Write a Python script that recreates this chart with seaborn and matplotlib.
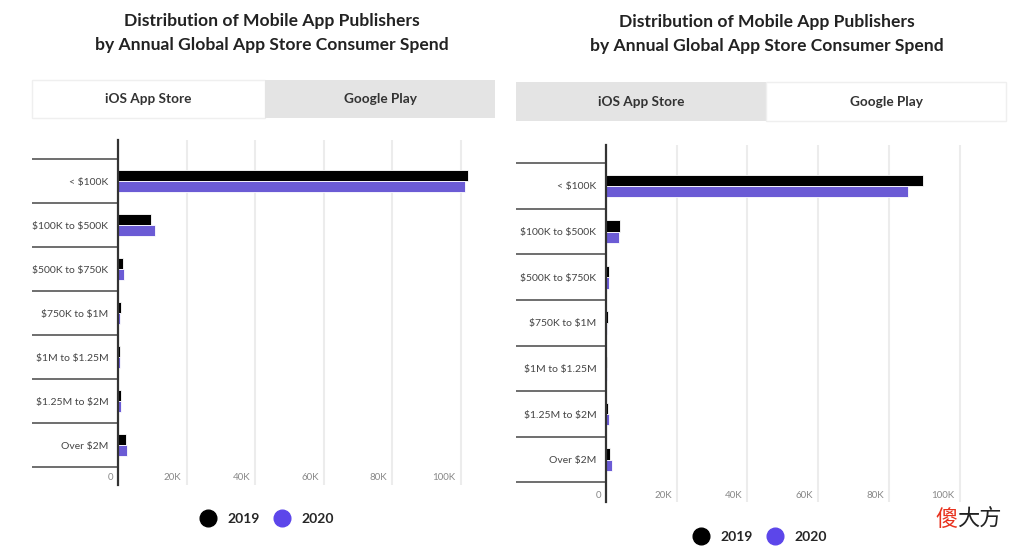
#!/usr/bin/env python3
# -*- coding: utf-8 -*-
"""Distribution of mobile app publishers by annual consumer spend (iOS vs Google Play)."""

import matplotlib
matplotlib.use("Agg")
import matplotlib.pyplot as plt  # noqa: E402
import matplotlib.transforms as mtransforms  # noqa: E402
from matplotlib.lines import Line2D  # noqa: E402
from matplotlib.patches import Rectangle  # noqa: E402
import pandas as pd  # noqa: E402
import seaborn as sns  # noqa: E402

# =============================================================================
# DATA
# =============================================================================
buckets = ["< $100K", "$100K to $500K", "$500K to $750K", "$750K to $1M",
           "$1M to $1.25M", "$1.25M to $2M", "Over $2M"]
years = ["2019", "2020"]
ios_2019 = [102200, 9600, 1500, 900, 500, 800, 2200]
ios_2020 = [101300, 10800, 1800, 700, 600, 800, 2500]
gplay_2019 = [89600, 4000, 900, 500, 400, 500, 1200]
gplay_2020 = [85400, 3700, 800, 400, 300, 800, 1700]
x_ticks = [0, 20000, 40000, 60000, 80000, 100000]
x_tick_labels = ["0", "20K", "40K", "60K", "80K", "100K"]

TITLE = "Distribution of Mobile App Publishers\nby Annual Global App Store Consumer Spend"
COLORS = {"2019": "#000000", "2020": "#5c46ea"}
FONT = "Lato"

W, H = 1024, 557


def long_frame(v2019, v2020):
    return pd.DataFrame({
        "bucket": buckets * 2,
        "year": ["2019"] * len(buckets) + ["2020"] * len(buckets),
        "publishers": list(v2019) + list(v2020),
    })


def fx(px):
    return px / W


def fy(py):
    return 1 - py / H


def draw_panel(fig, df, geom, active):
    """One panel: title, tab bar, bar chart, legend."""
    g = geom
    # title
    fig.text(fx(g["title_x"]), fy(g["title_y"]), TITLE, ha="center", va="center",
             fontsize=12.6, fontweight="bold", color="#222222", linespacing=1.6,
             family=FONT)

    # tab bar
    tx0, tx1, tmid = g["tab_x0"], g["tab_x1"], g["tab_mid"]
    ty0, ty1 = g["tab_y0"], g["tab_y1"]
    for (a, b), is_active, label in [((tx0, tmid), active == 0, "iOS App Store"),
                                     ((tmid, tx1), active == 1, "Google Play")]:
        rect = Rectangle((fx(a), fy(ty1)), fx(b - a), (ty1 - ty0) / H,
                         transform=fig.transFigure,
                         facecolor="#ffffff" if is_active else "#e4e4e4",
                         edgecolor="#efefef" if is_active else "none", lw=1.0)
        fig.add_artist(rect)
        fig.text(fx((a + b) / 2), fy((ty0 + ty1) / 2), label, ha="center", va="center",
                 fontsize=9.8, fontweight="bold", color="#333333", family=FONT)

    # axes
    ax_left, ax_right = g["ax_x0"], g["ax_x1"]
    ax_top, ax_bot = g["ax_y0"], g["ax_y1"]
    ax = fig.add_axes([fx(ax_left), fy(ax_bot), fx(ax_right - ax_left), (ax_bot - ax_top) / H])
    ax.set_facecolor("none")
    sns.barplot(data=df, y="bucket", x="publishers", hue="year", hue_order=years,
                order=buckets, orient="h", palette=COLORS, width=0.5,
                edgecolor="white", linewidth=0.6, legend=False, ax=ax)
    ax.set_xlim(0, 110000)
    ax.set_ylim(g["ylim_bot"], g["ylim_top"])
    ax.set_xlabel("")
    ax.set_ylabel("")

    ax.set_xticks(x_ticks)
    ax.xaxis.grid(True, color="#ececec", lw=1.5)
    ax.set_axisbelow(True)
    ax.tick_params(axis="x", length=0, labelbottom=False)
    ax.set_yticks(range(len(buckets)), labels=buckets, parse_math=False,
                  fontsize=7.5, color="#444444", family=FONT)
    ax.tick_params(axis="y", length=0, pad=7)

    for side in ["top", "right", "bottom"]:
        ax.spines[side].set_visible(False)
    ax.spines["left"].set_color("#333333")
    ax.spines["left"].set_linewidth(1.6)

    # category separators to the left of the axis
    sep_frac = -(ax_left - g["sep_x0"]) / (ax_right - ax_left)
    ax.hlines([i - 0.5 for i in range(len(buckets) + 1)], sep_frac, 0,
              transform=ax.get_yaxis_transform(), color="#555555", lw=1.2, clip_on=False)

    # x tick labels sit inside the plot, left of each gridline
    trans = mtransforms.offset_copy(ax.transData, fig=fig, x=-5, y=0, units="dots")
    for v, lab in zip(x_ticks, x_tick_labels):
        ax.text(v, g["xlabel_y"], lab, transform=trans, ha="right", va="center",
                fontsize=7, color="#888888", family=FONT)

    # legend
    handles = [Line2D([], [], marker="o", ls="", ms=12, color=COLORS[y]) for y in years]
    fig.legend(handles, years, loc="center", bbox_to_anchor=(fx(g["leg_x"]), fy(g["leg_y"])),
               ncol=2, frameon=False, handletextpad=0.4, columnspacing=0.6,
               prop={"family": FONT, "weight": "bold", "size": 10})
    return ax


# =============================================================================
# MAIN
# =============================================================================
sns.set_theme(style="white")
plt.rcParams["font.family"] = [FONT, "DejaVu Sans"]

fig = plt.figure(figsize=(W / 100, H / 100), dpi=100)
fig.patch.set_facecolor("white")

left_geom = dict(title_x=272, title_y=33, tab_x0=32, tab_x1=495, tab_mid=265, tab_y0=80, tab_y1=118,
                 ax_x0=118, ax_x1=494.75, ax_y0=140, ax_y1=485, sep_x0=32,
                 ylim_top=(140 - 181) / 44, ylim_bot=(485 - 181) / 44, xlabel_y=(478 - 181) / 44,
                 leg_x=264, leg_y=519)
right_geom = dict(title_x=767, title_y=34, tab_x0=516, tab_x1=1006, tab_mid=766, tab_y0=82, tab_y1=121,
                  ax_x0=606, ax_x1=995, ax_y0=145, ax_y1=502, sep_x0=516,
                  ylim_top=(145 - 186) / 45.6, ylim_bot=(502 - 186) / 45.6, xlabel_y=(495 - 186) / 45.6,
                  leg_x=757, leg_y=537)

draw_panel(fig, long_frame(ios_2019, ios_2020), left_geom, active=0)
draw_panel(fig, long_frame(gplay_2019, gplay_2020), right_geom, active=1)

# source watermark
fig.text(fx(935), fy(519), "傻", ha="left", va="center", fontsize=16, color="#e8321e",
         family=["Noto Sans CJK SC", "DejaVu Sans"])
fig.text(fx(957), fy(519), "大方", ha="left", va="center", fontsize=16, color="#222222",
         family=["Noto Sans CJK SC", "DejaVu Sans"])

fig.savefig("out.png", dpi=100, facecolor="white")
